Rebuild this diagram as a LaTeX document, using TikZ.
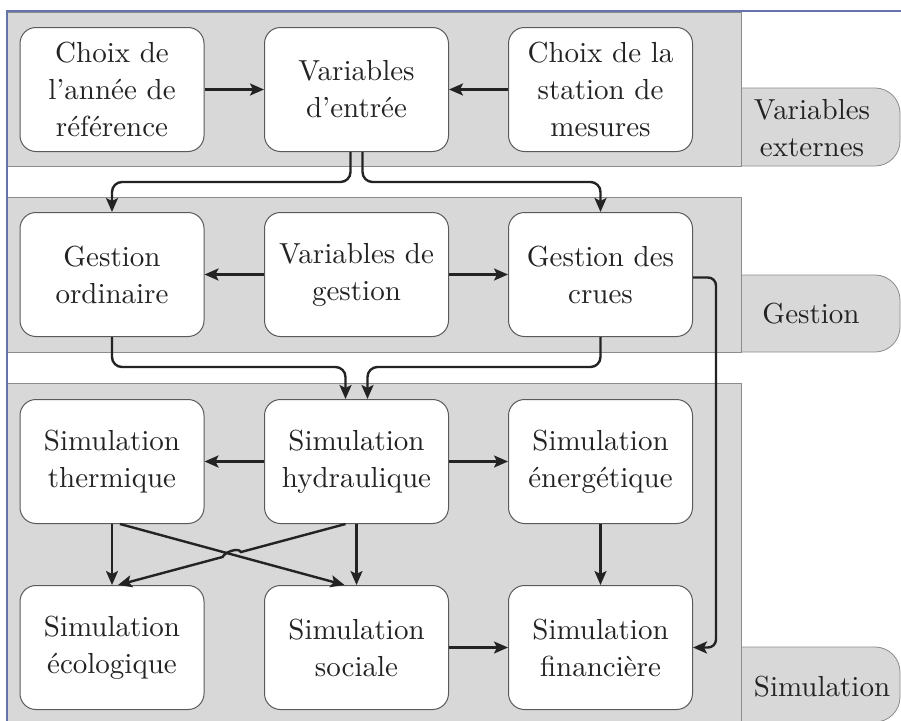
\documentclass[tikz,border=0pt]{standalone}
\usepackage{fontspec}
\newfontfamily\lmten{lmroman10-regular.otf}
\usetikzlibrary{arrows.meta,calc}
\definecolor{panelgray}{RGB}{216,216,216}
\definecolor{panelline}{RGB}{140,140,140}
\definecolor{frameblue}{RGB}{100,115,170}
\definecolor{inkc}{RGB}{35,35,35}
\definecolor{boxline}{RGB}{90,90,90}
\begin{document}
\begin{tikzpicture}[x=1pt,y=-1pt,
  panel/.style={fill=panelgray,draw=panelline,line width=0.8pt},
  box/.style={draw=boxline,line width=1pt,fill=white,rounded corners=16pt,
    minimum width=184pt,minimum height=124pt,align=center,inner sep=2pt,
    font=\lmten\fontsize{29}{37}\selectfont,text=inkc},
  tabtext/.style={align=center,inner sep=0pt,font=\lmten\fontsize{29}{37}\selectfont,text=inkc},
  conn/.style={draw=inkc,line width=2.4pt,-{Stealth[length=14pt,width=12pt,inset=3pt]}}]
\useasboundingbox (0,0) rectangle (901,720);
% tabs
\draw[panel] (741,88) -- (875,88) arc[start angle=90,end angle=0,radius=25pt] -- (900,141)
  arc[start angle=0,end angle=-90,radius=25pt] -- (741,166);
\draw[panel] (741,275) -- (875,275) arc[start angle=90,end angle=0,radius=25pt] -- (900,327)
  arc[start angle=0,end angle=-90,radius=25pt] -- (741,352);
\draw[panel] (741,647) -- (875,647) arc[start angle=90,end angle=0,radius=25pt] -- (900,697)
  arc[start angle=0,end angle=-90,radius=25pt] -- (741,722);
% panels
\draw[panel] (7,12) rectangle (741,166);
\draw[panel] (7,197) rectangle (741,352);
\draw[panel] (7,383) rectangle (741,724);
% frame
\draw[frameblue,line width=1.5pt] (7,724) -- (7,11) -- (905,11);
% nodes
\node[box] (ca) at (112,89.5) {Choix de\\l’année de\\référence};
\node[box] (ve) at (356.5,89.5) {Variables\\d’entrée};
\node[box] (cs) at (600.5,89.5) {Choix de la\\station de\\mesures};
\node[box] (go) at (112,274.5) {Gestion\\ordinaire};
\node[box] (vg) at (356.5,274.5) {Variables de\\gestion};
\node[box] (gc) at (600.5,274.5) {Gestion des\\crues};
\node[box] (st) at (112,461.5) {Simulation\\thermique};
\node[box] (sh) at (356.5,461.5) {Simulation\\hydraulique};
\node[box] (sen) at (600.5,461.5) {Simulation\\énergétique};
\node[box] (sec) at (112,647.5) {Simulation\\écologique};
\node[box] (sso) at (356.5,647.5) {Simulation\\sociale};
\node[box] (sf) at (600.5,647.5) {Simulation\\financière};
% tab labels
\node[tabtext] (tve) at (812,128) {Variables\\externes};
\node[tabtext] (tg) at (811,314) {Gestion};
\node[tabtext] (ts) at (822,687) {Simulation};
% connectors
\draw[conn] (ca) -- (ve);
\draw[conn] (cs) -- (ve);
\draw[conn,rounded corners=10pt] ([xshift=-6pt]ve.south) |- ([yshift=30pt]go.north) -- (go.north);
\draw[conn,rounded corners=10pt] ([xshift=6pt]ve.south) |- ([yshift=30pt]gc.north) -- (gc.north);
\draw[conn] (vg) -- (go);
\draw[conn] (vg) -- (gc);
\draw[conn,rounded corners=10pt] (go.south) |- ([xshift=-11pt,yshift=32pt]sh.north) -- ([xshift=-11pt]sh.north);
\draw[conn,rounded corners=10pt] (gc.south) |- ([xshift=11pt,yshift=32pt]sh.north) -- ([xshift=11pt]sh.north);
\draw[conn,rounded corners=8pt] ([yshift=-3pt]gc.east) -| ([xshift=23pt]sf.east) -- (sf.east);
\draw[conn] (sh) -- (st);
\draw[conn] (sh) -- (sen);
\draw[conn] (st) -- (sec);
\draw[conn] (sh) -- (sso);
\draw[conn] (sen) -- (sf);
\draw[conn] (sso) -- (sf);
\draw[conn] ([xshift=8pt]st.south) -- ([xshift=-12pt]sso.north);
\coordinate (hA) at ([xshift=-11pt]sh.south);
\coordinate (hB) at ([xshift=6pt]sec.north);
\draw[conn] (hA) -- ($(hA)!0.46!(hB)$)
  .. controls ($(hA)!0.46!(hB)+(-2pt,5pt)$) and ($(hA)!0.54!(hB)+(2pt,5pt)$) .. ($(hA)!0.54!(hB)$)
  -- (hB);
\end{tikzpicture}
\end{document}
